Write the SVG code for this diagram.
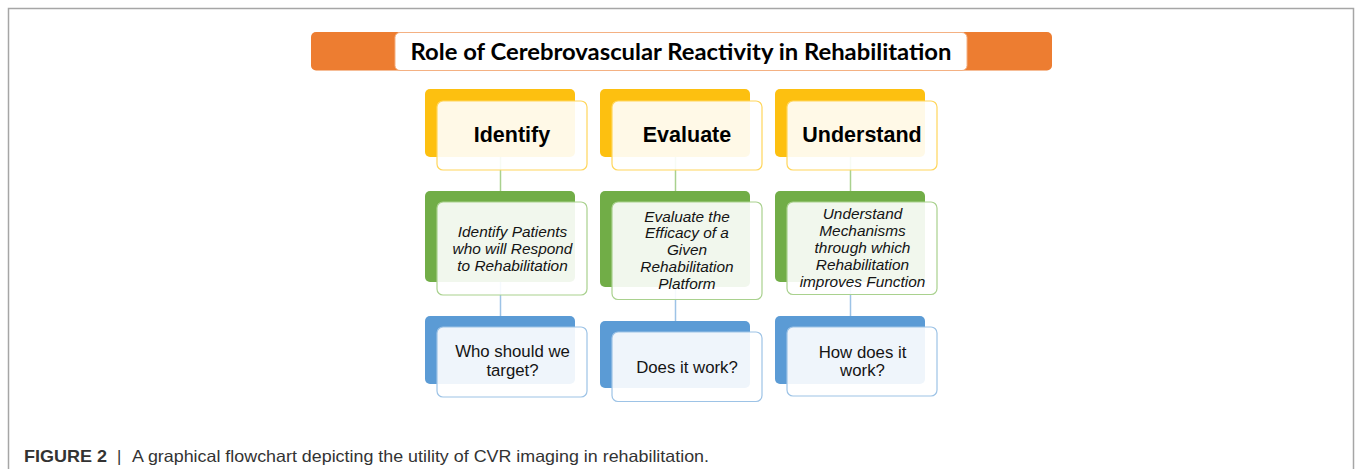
<svg xmlns="http://www.w3.org/2000/svg" width="1356" height="469" viewBox="0 0 1356 469">
  <style>
    .frame { fill: none; stroke: #a6a6a6; stroke-width: 1.5; }
    .back-y { fill: #fdc010; }
    .back-g { fill: #71ad47; }
    .back-b { fill: #5b9bd5; }
    .front { fill: #ffffff; fill-opacity: 0.9; stroke-width: 1.2; }
    .front-y { stroke: #ffd65c; }
    .front-g { stroke: #a9d18e; }
    .front-b { stroke: #9dc3e6; }
    .link-g { stroke: #a9d18e; stroke-width: 1.5; fill: none; }
    .link-b { stroke: #9dc3e6; stroke-width: 1.5; fill: none; }
    .head { font-family: "Liberation Sans", Arial, sans-serif; font-weight: bold; font-size: 21.5px; fill: #000; text-anchor: middle; }
    .goal { font-family: "Liberation Sans", Arial, sans-serif; font-style: italic; font-size: 15.4px; fill: #141414; text-anchor: middle; }
    .ask { font-family: "Liberation Sans", Arial, sans-serif; font-size: 16.8px; fill: #141414; text-anchor: middle; }
    .title { font-family: Lato, "Open Sans", sans-serif; font-weight: bold; font-size: 22px; fill: #000; text-anchor: middle; }
    .caption { font-family: "Liberation Sans", Arial, sans-serif; font-size: 16.5px; fill: #333333; }
  </style>

  <rect width="1356" height="469" fill="#ffffff"/>

  <!-- outer frame (open at the bottom) -->
  <path class="frame" d="M8.5,469 V8.5 H1353.5 V469"/>

  <!-- title banner -->
  <g id="title">
    <rect x="311" y="32" width="741" height="38.5" rx="5" fill="#ed7d31"/>
    <rect x="395" y="32.5" width="572" height="38" rx="5" fill="#ffffff" stroke="#f4b183" stroke-width="1"/>
    <text class="title" x="681" y="59.5" textLength="541" lengthAdjust="spacingAndGlyphs">Role of Cerebrovascular Reactivity in Rehabilitation</text>
  </g>

  <!-- connectors run under the front cards -->
  <g id="connectors">
    <line class="link-g" x1="500.5" y1="157" x2="500.5" y2="191"/>
    <line class="link-g" x1="675.5" y1="157" x2="675.5" y2="191"/>
    <line class="link-g" x1="850.5" y1="157" x2="850.5" y2="191"/>
    <line class="link-b" x1="500.5" y1="282" x2="500.5" y2="316"/>
    <line class="link-b" x1="675.5" y1="287" x2="675.5" y2="321"/>
    <line class="link-b" x1="850.5" y1="282" x2="850.5" y2="316"/>
  </g>

  <!-- column 1 -->
  <g id="identify">
    <rect class="back-y" x="425" y="89" width="150" height="68" rx="5"/>
    <rect class="front front-y" x="437" y="101" width="150" height="69" rx="6"/>
    <text class="head" x="512" y="142">Identify</text>
  </g>
  <g id="identify-goal">
    <rect class="back-g" x="425" y="191" width="150" height="91" rx="5"/>
    <rect class="front front-g" x="437" y="202" width="150" height="93" rx="6"/>
    <text class="goal" x="512.5" y="236.7">Identify Patients</text>
    <text class="goal" x="512.5" y="254">who will Respond</text>
    <text class="goal" x="512.5" y="270.7">to Rehabilitation</text>
  </g>
  <g id="identify-question">
    <rect class="back-b" x="425" y="316" width="150" height="68" rx="5"/>
    <rect class="front front-b" x="437" y="327" width="150" height="70" rx="6"/>
    <text class="ask" x="512.5" y="356.7">Who should we</text>
    <text class="ask" x="512.5" y="376">target?</text>
  </g>

  <!-- column 2 -->
  <g id="evaluate">
    <rect class="back-y" x="600" y="89" width="150" height="68" rx="5"/>
    <rect class="front front-y" x="612" y="101" width="150" height="69" rx="6"/>
    <text class="head" x="687" y="142">Evaluate</text>
  </g>
  <g id="evaluate-goal">
    <rect class="back-g" x="600" y="191" width="150" height="96" rx="5"/>
    <rect class="front front-g" x="612" y="202" width="150" height="97.5" rx="6"/>
    <text class="goal" x="687" y="221.7">Evaluate the</text>
    <text class="goal" x="687" y="238.3">Efficacy of a</text>
    <text class="goal" x="687" y="255">Given</text>
    <text class="goal" x="687" y="272.3">Rehabilitation</text>
    <text class="goal" x="687" y="289.3">Platform</text>
  </g>
  <g id="evaluate-question">
    <rect class="back-b" x="600" y="321" width="150" height="67" rx="5"/>
    <rect class="front front-b" x="612" y="332" width="150" height="69.5" rx="6"/>
    <text class="ask" x="687" y="372.7">Does it work?</text>
  </g>

  <!-- column 3 -->
  <g id="understand">
    <rect class="back-y" x="775" y="89" width="150" height="68" rx="5"/>
    <rect class="front front-y" x="787" y="101" width="150" height="69" rx="6"/>
    <text class="head" x="862" y="142">Understand</text>
  </g>
  <g id="understand-goal">
    <rect class="back-g" x="775" y="191" width="150" height="91" rx="5"/>
    <rect class="front front-g" x="787" y="202" width="150" height="92.5" rx="6"/>
    <text class="goal" x="862.5" y="219.3">Understand</text>
    <text class="goal" x="862.5" y="236">Mechanisms</text>
    <text class="goal" x="862.5" y="252.7">through which</text>
    <text class="goal" x="862.5" y="270">Rehabilitation</text>
    <text class="goal" x="862.5" y="286.7">improves Function</text>
  </g>
  <g id="understand-question">
    <rect class="back-b" x="775" y="316" width="150" height="68" rx="5"/>
    <rect class="front front-b" x="787" y="327" width="150" height="69" rx="6"/>
    <text class="ask" x="862.5" y="357.7">How does it</text>
    <text class="ask" x="862.5" y="376">work?</text>
  </g>

  <!-- figure caption -->
  <g id="caption">
    <text class="caption" x="24" y="462" font-weight="bold" fill="#2b2b2b" textLength="83" lengthAdjust="spacingAndGlyphs">FIGURE 2</text>
    <text class="caption" x="117" y="462">|</text>
    <text class="caption" x="132" y="462" textLength="577" lengthAdjust="spacingAndGlyphs">A graphical flowchart depicting the utility of CVR imaging in rehabilitation.</text>
  </g>
</svg>
